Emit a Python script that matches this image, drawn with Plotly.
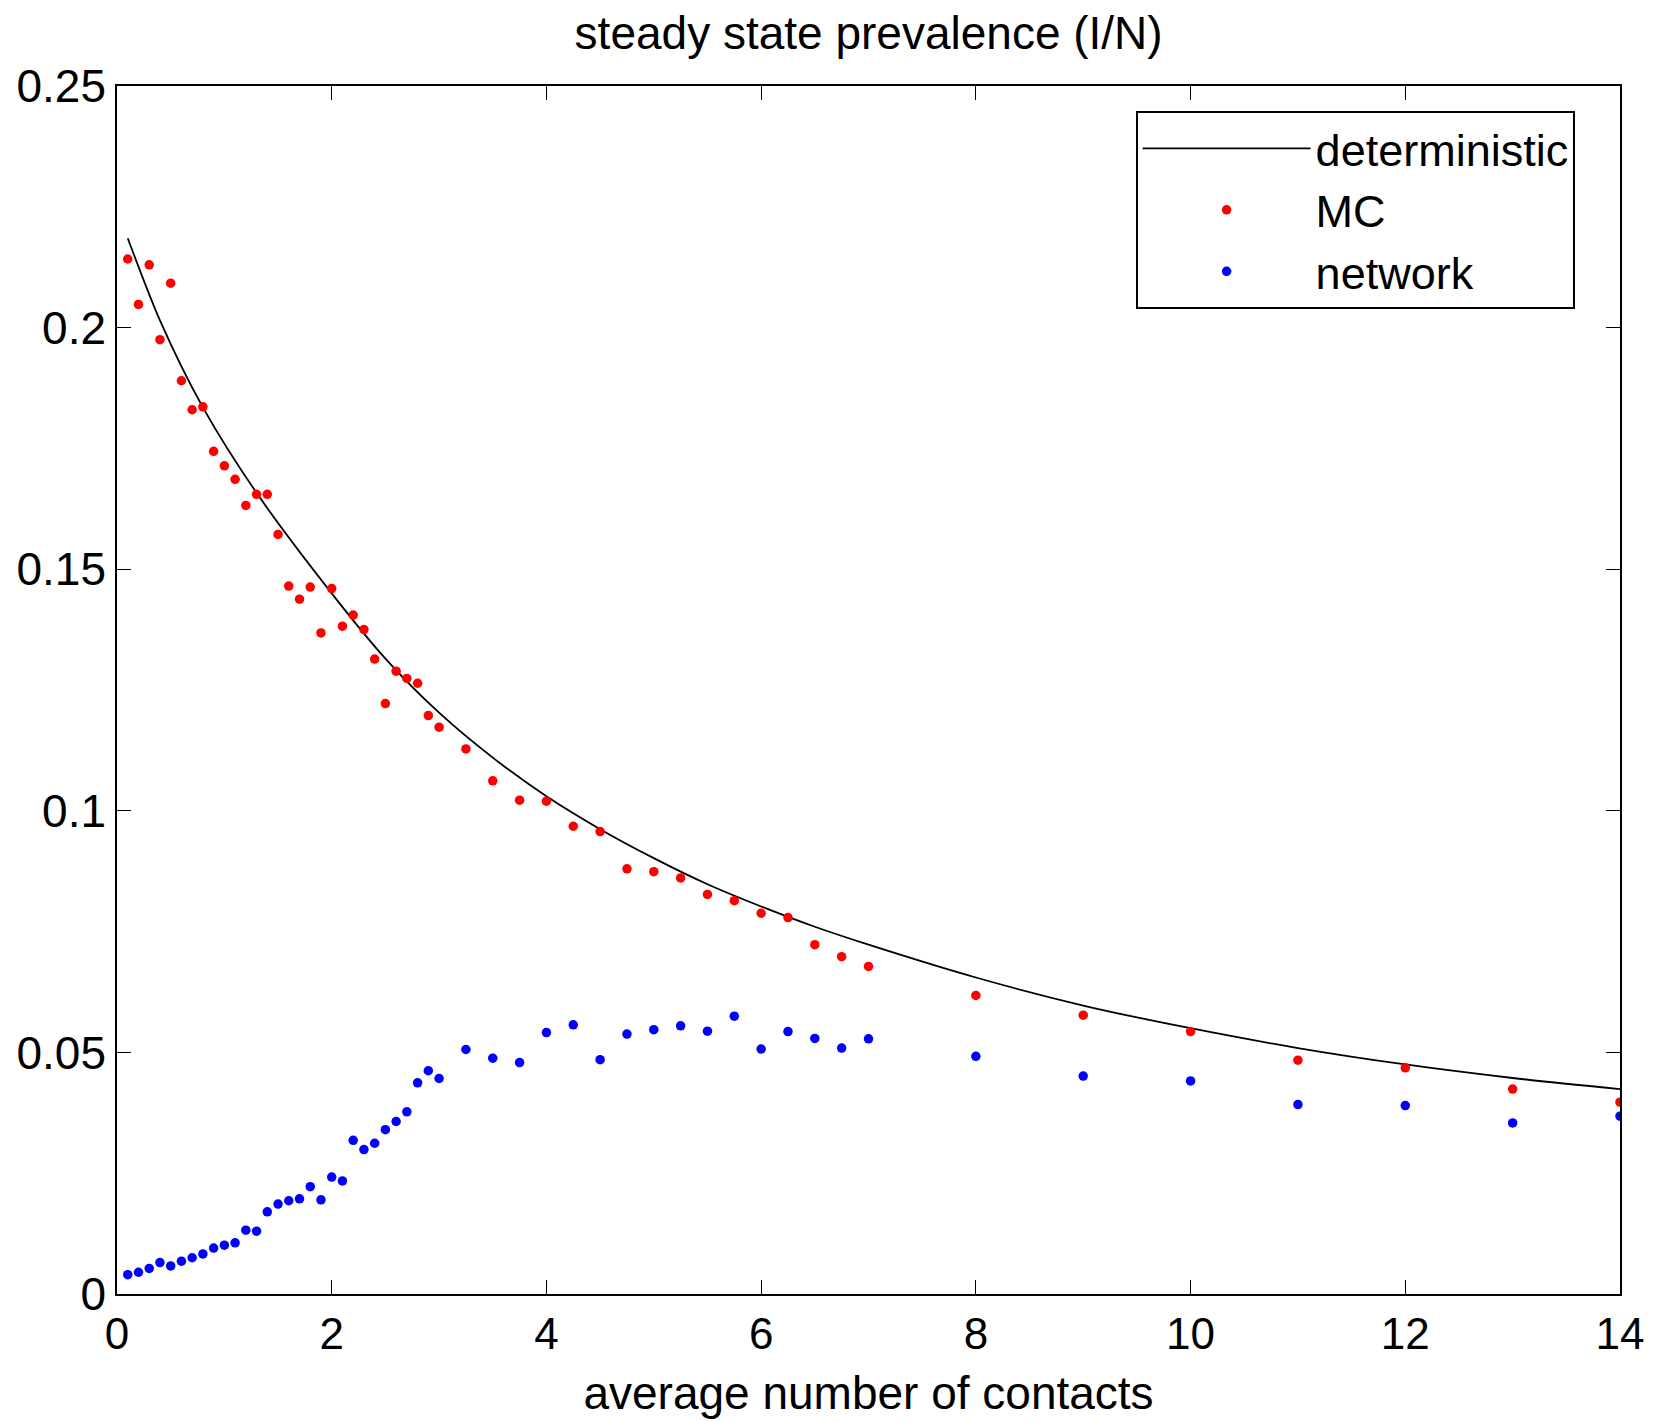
import plotly.graph_objects as go

# x values (average number of contacts) for the simulated points
contacts = [0.1, 0.2, 0.3, 0.4, 0.5, 0.6, 0.7, 0.8, 0.9, 1.0,
            1.1, 1.2, 1.3, 1.4, 1.5, 1.6, 1.7, 1.8, 1.9, 2.0,
            2.1, 2.2, 2.3, 2.4, 2.5, 2.6, 2.7, 2.8, 2.9, 3.0,
            3.25, 3.5, 3.75, 4.0, 4.25, 4.5, 4.75, 5.0, 5.25, 5.5,
            5.75, 6.0, 6.25, 6.5, 6.75, 7.0,
            8, 9, 10, 11, 12, 13, 14]

mc_prev = [0.2142, 0.2048, 0.2130, 0.1975, 0.2092, 0.1890, 0.1830, 0.1836, 0.1744, 0.1714,
           0.1686, 0.1632, 0.1655, 0.1655, 0.1572, 0.1465, 0.1438, 0.1463, 0.1368, 0.1460,
           0.1382, 0.1405, 0.1375, 0.1314, 0.1222, 0.1289, 0.1274, 0.1264, 0.1197, 0.1173,
           0.1128, 0.1062, 0.1022, 0.1020, 0.0968, 0.0957, 0.0880, 0.0874, 0.0861, 0.0827,
           0.0814, 0.0788, 0.0779, 0.0723, 0.0698, 0.0678,
           0.0618, 0.0577, 0.0543, 0.0484, 0.0468, 0.0424, 0.0397]

net_prev = [0.0040, 0.0045, 0.0053, 0.0065, 0.0058, 0.0068, 0.0075, 0.0083, 0.0095, 0.0101,
            0.0106, 0.0132, 0.0130, 0.0170, 0.0186, 0.0193, 0.0197, 0.0222, 0.0195, 0.0242,
            0.0234, 0.0318, 0.0299, 0.0312, 0.0340, 0.0357, 0.0377, 0.0437, 0.0462, 0.0446,
            0.0506, 0.0488, 0.0479, 0.0541, 0.0557, 0.0485, 0.0538, 0.0547, 0.0555, 0.0544,
            0.0575, 0.0507, 0.0543, 0.0529, 0.0509, 0.0528,
            0.0492, 0.0451, 0.0441, 0.0392, 0.0390, 0.0354, 0.0368]

# deterministic curve
det_x = [0.1, 0.4, 0.8, 1.3, 2.0, 2.5, 3.0, 3.5, 4.0, 4.5, 5.0, 5.5, 6.0, 6.5, 7.0,
         8.0, 9.0, 10.0, 11.0, 12.0, 13.0, 14.0]
det_y = [0.2185, 0.2015, 0.1835, 0.1658, 0.1450, 0.1315, 0.1203, 0.1110, 0.1030, 0.0962,
         0.0902, 0.0848, 0.0802, 0.0760, 0.0723, 0.0655, 0.0597, 0.0550, 0.0509, 0.0475,
         0.0447, 0.0424]

x_ticks = [0, 2, 4, 6, 8, 10, 12, 14]
y_ticks = [0, 0.05, 0.1, 0.15, 0.2, 0.25]
y_tick_text = ["0", "0.05", "0.1", "0.15", "0.2", "0.25"]

FONT = "Liberation Sans, Arial, sans-serif"

fig = go.Figure()
fig.add_trace(go.Scatter(x=det_x, y=det_y, mode="lines", name="deterministic",
                         line=dict(color="black", width=1.8, shape="spline", smoothing=0.8)))
fig.add_trace(go.Scatter(x=contacts, y=mc_prev, mode="markers", name="MC",
                         marker=dict(color="#ff0000", size=9.5)))
fig.add_trace(go.Scatter(x=contacts, y=net_prev, mode="markers", name="network",
                         marker=dict(color="#0000ff", size=9.5)))

axis_common = dict(showline=True, linecolor="black", linewidth=1.6, mirror="ticks",
                   ticks="inside", ticklen=14, tickwidth=1.3, tickcolor="black",
                   showgrid=False, zeroline=False, automargin=False)

fig.update_layout(
    width=1653, height=1421,
    margin=dict(l=117, r=33, t=86, b=127),
    paper_bgcolor="white", plot_bgcolor="white",
    font=dict(family=FONT, size=44, color="black"),
    title=dict(text="steady state prevalence (I/N)", x=0.5255, xanchor="center",
               y=1 - 33 / 1421, yanchor="middle", yref="container", automargin=False,
               font=dict(family=FONT, size=46, color="black")),
    xaxis=dict(range=[0, 14], tickvals=x_ticks,
               tickfont=dict(family=FONT, size=44, color="black"),
               title=dict(text="average number of contacts", standoff=20,
                          font=dict(family=FONT, size=46, color="black")),
               **axis_common),
    yaxis=dict(range=[0, 0.25], tickvals=y_ticks, ticktext=y_tick_text,
               tickfont=dict(family=FONT, size=46, color="black"),
               **axis_common),
    legend=dict(x=(1136 - 117) / 1503, y=(1294.3 - 111) / 1208.3, xanchor="left", yanchor="top",
                bgcolor="white", bordercolor="black", borderwidth=1.6,
                font=dict(family=FONT, size=45, color="black"),
                itemwidth=168, tracegroupgap=0),
    showlegend=True,
)

fig.write_html("out.html", config={"displayModeBar": False},
               post_script="document.body.style.margin='0px';")
